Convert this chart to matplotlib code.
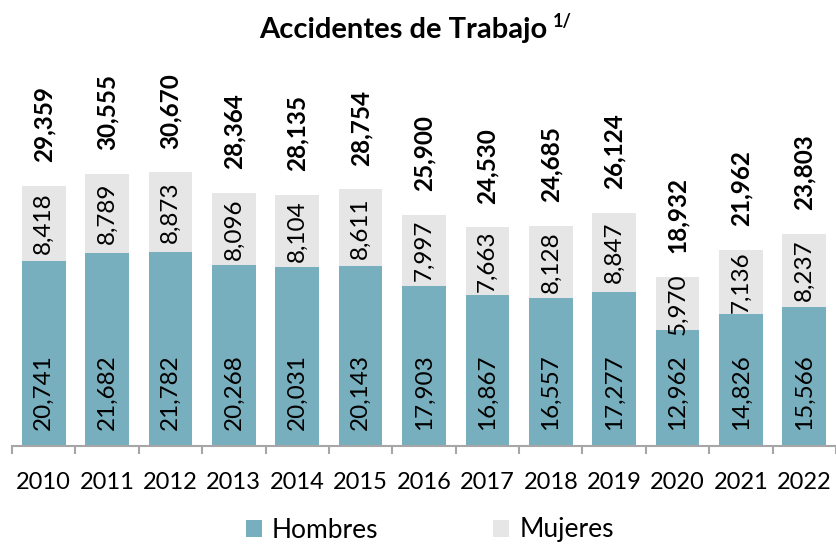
import matplotlib
matplotlib.use("Agg")
import matplotlib.pyplot as plt
import numpy as np
from matplotlib.patches import Patch

years = ["2010", "2011", "2012", "2013", "2014", "2015", "2016",
         "2017", "2018", "2019", "2020", "2021", "2022"]
hombres = [20741, 21682, 21782, 20268, 20031, 20143, 17903,
           16867, 16557, 17277, 12962, 14826, 15566]
mujeres = [8418, 8789, 8873, 8096, 8104, 8611, 7997,
           7663, 8128, 8847, 5970, 7136, 8237]
totales = [29359, 30555, 30670, 28364, 28135, 28754, 25900,
           24530, 24685, 26124, 18932, 21962, 23803]

C_HOM = "#78afbe"
C_MUJ = "#e6e6e6"
FONT = "Lato"
FS = 17.5

plt.rcParams["font.family"] = [FONT, "DejaVu Sans"]

fig = plt.figure(figsize=(8.36, 5.45), dpi=100)
ax = fig.add_axes([12 / 836, 1 - 446 / 545, 1 - 12 / 836, 406 / 545])

x = np.arange(len(years))
w = 0.69
ax.bar(x, hombres, width=w, color=C_HOM, label="Hombres", zorder=2)
ax.bar(x, mujeres, width=w, bottom=hombres, color=C_MUJ, label="Mujeres", zorder=2)

ax.set_xlim(-0.5, len(years) - 0.5)
ax.set_ylim(0, 45500)

for xi, h, m, t in zip(x, hombres, mujeres, totales):
    ax.annotate(f"{h:,}", (xi, 0), xytext=(0, 11.5), textcoords="offset points",
                rotation=90, ha="center", va="bottom", fontsize=FS, color="black",
                zorder=3)
    ax.text(xi, h + m / 2, f"{m:,}", rotation=90, ha="center", va="center",
            fontsize=FS, color="black", zorder=3)
    ax.annotate(f"{t:,}", (xi, h + m), xytext=(0, 17), textcoords="offset points",
                rotation=90, ha="center", va="bottom", fontsize=FS,
                fontweight="bold", color="black", zorder=3)

for s in ["top", "right", "left"]:
    ax.spines[s].set_visible(False)
ax.spines["bottom"].set_color("#a6a6a6")
ax.spines["bottom"].set_linewidth(1.5)
ax.set_yticks([])
ax.set_xticks(x)
ax.set_xticklabels(years, fontsize=17)
ax.tick_params(axis="x", which="major", length=0, pad=19)
ax.set_xticks(np.arange(-0.5, len(years), 1.0), minor=True)
ax.tick_params(axis="x", which="minor", length=6, width=1.5, color="#a6a6a6")

fig.text(403 / 836, 1 - 30 / 545, "Accidentes de Trabajo", ha="center", va="center",
         fontsize=21, fontweight="bold")
fig.text(553 / 836, 1 - 22 / 545, "1/", ha="left", va="center",
         fontsize=13, fontweight="bold")

handles = [Patch(facecolor=C_HOM, label="Hombres"), Patch(facecolor=C_MUJ, label="Mujeres")]
fig.legend(handles=handles, loc="center", bbox_to_anchor=(430 / 836, 1 - 530 / 545),
           ncol=2, frameon=False, fontsize=19, handlelength=0.6, handleheight=0.6,
           handletextpad=0.4, columnspacing=4.35, borderaxespad=0)

fig.savefig("out.png", dpi=100)
